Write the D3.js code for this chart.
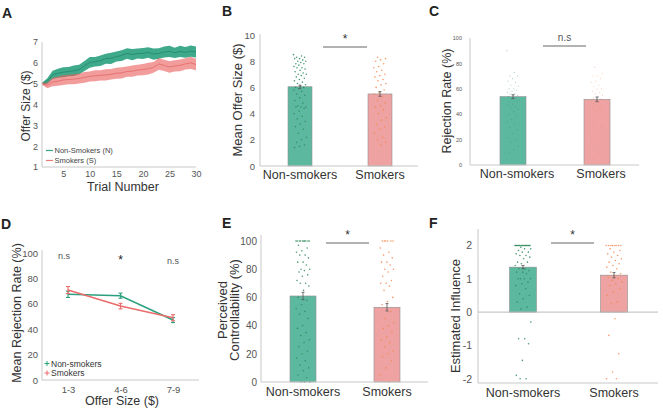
<!DOCTYPE html>
<html><head><meta charset="utf-8">
<script src="https://cdn.jsdelivr.net/npm/d3@7"></script>
<style>body{margin:0;background:#fff}svg{display:block;font-family:"Liberation Sans",Arial,Helvetica,sans-serif}</style>
</head><body><svg id="c" width="663" height="410"></svg>
<script>
// ---------------- DATA ----------------
const trialNums = [1,2,3,4,5,6,7,8,9,10,11,12,13,14,15,16,17,18,19,20,21,22,23,24,25,26,27,28,29,30];
const trialTicks = [5,10,15,20,25,30];
const offerSizeTicks = [1,2,3,4,5,6,7];
const nonSmokerTrialMean = [5.0,5.12,5.42,5.5,5.55,5.58,5.62,5.68,5.85,6.02,6.05,6.1,6.2,6.22,6.3,6.35,6.45,6.4,6.45,6.45,6.5,6.42,6.45,6.52,6.55,6.48,6.55,6.5,6.56,6.52];
const nonSmokerTrialSE   = [0.05,0.14,0.2,0.22,0.24,0.22,0.25,0.23,0.24,0.26,0.23,0.25,0.24,0.27,0.24,0.26,0.25,0.27,0.24,0.26,0.25,0.27,0.25,0.26,0.27,0.25,0.27,0.26,0.27,0.26];
const smokerTrialMean    = [5.0,4.92,5.08,5.12,5.18,5.2,5.22,5.25,5.3,5.35,5.38,5.4,5.42,5.45,5.5,5.52,5.58,5.6,5.65,5.68,5.72,5.78,5.95,5.88,5.8,5.85,5.88,5.95,6.0,5.92];
const smokerTrialSE      = [0.05,0.14,0.2,0.22,0.24,0.23,0.25,0.24,0.26,0.24,0.26,0.25,0.27,0.25,0.26,0.27,0.25,0.27,0.26,0.27,0.28,0.26,0.28,0.27,0.28,0.27,0.28,0.27,0.29,0.28];
const legendA = ["Non-Smokers (N)","Smokers (S)"];

const groups = ["Non-smokers","Smokers"];

// B: mean offer size
const meanOffer = [6.05,5.5];
const meanOfferSE = [0.12,0.18];
const meanOfferTicks = [0,2,4,6,8,10];
const offerDotsNon = [8.5,8.4,8.3,8.3,8.2,8.2,8.1,8.0,8.0,7.9,7.8,7.8,7.7,7.6,7.5,7.5,7.4,7.3,7.2,7.1,7.0,7.0,6.9,6.8,6.7,6.6,6.5,6.4,6.3,6.2,6.1,6.0,6.0,5.9,5.8,5.7,5.5,5.4,5.2,5.0,4.8,4.6,4.5,4.5,4.5,4.4,4.2,4.0,3.8,3.6,3.4,3.2,3.0,2.8,2.5,2.2,2.0,1.8,1.6,1.5,1.4];
const offerDotsSmk = [8.3,8.2,8.1,8.0,7.8,7.6,7.5,7.3,7.2,7.0,6.9,6.8,6.6,6.5,6.3,6.2,6.0,5.8,5.6,5.5,5.3,5.0,4.8,4.6,4.5,4.3,4.0,3.7,3.5,3.2,3.0,2.8,2.5,2.2,2.0,1.8,1.6];

// C: rejection rate
const rejRate = [53.8,51.7];
const rejRateSE = [1.5,1.8];
const rejTicks = [0,20,40,60,80,100];
const rejDotsNon = [90,73,70,70,68,66,65,63,62,60,60,59,58,57,56,56,55,55,54,53,52,51,50,50,49,48,47,46,45,44,42,40,38,36,34,32,30,28,25,22,20,18,15,12,10];
const rejDotsSmk = [77,72,70,70,68,66,65,63,62,60,60,58,57,56,55,54,53,52,51,50,49,48,47,46,45,44,42,40,37,34,30,25,20,10];

// D: rejection by offer size
const offerBins = ["1-3","4-6","7-9"];
const binRejNon = [67.5,66.4,47.2];
const binRejNonSE = [2.5,2,2];
const binRejSmk = [70.8,58.2,49];
const binRejSmkSE = [2.8,2.2,2.4];
const binSig = ["n.s","*","n.s"];
const binRejTicks = [0,20,40,60,80,100];

// E: perceived controllability
const control = [61,53];
const controlSE = [2.6,2.6];
const controlTicks = [0,20,40,60,80,100];
const controlDotsNon = [100,100,100,100,100,100,100,100,100,100,97,95,93,92,90,90,88,85,85,83,80,80,79,78,76,75,72,70,70,68,65,60,58,55,52,50,48,45,40,38,35,33,30,28,25,22,20,17,15,12,10,8,5,3,0,0,0];
const controlDotsSmk = [100,100,100,100,100,100,95,92,90,88,85,85,83,80,80,78,75,72,70,70,68,65,60,57,55,50,45,42,40,38,35,32,30,28,25,22,20,18,15,10,5,0];

// F: estimated influence
const influence = [1.35,1.11];
const influenceSE = [0.05,0.08];
const influenceTicks = [-2,-1,0,1,2];
const inflDotsNon = [2,2,2,2,2,2,2,2,2,2,2,2,2,2,2,2,2,2,2,2,1.95,1.9,1.9,1.85,1.8,1.8,1.75,1.7,1.7,1.65,1.6,1.5,1.5,1.45,1.4,1.3,1.3,1.25,1.2,1.2,1.15,1.0,1.0,1.0,1.0,0.9,0.85,0.8,0.7,0.55,0.5,0.4,0.3,0.15,0.1,-0.3,-0.8,-0.8,-0.95,-1.45,-1.9,-2.0,-2.0];
const inflDotsSmk = [2,2,2,2,2,2,2,2,1.9,1.85,1.8,1.75,1.7,1.65,1.6,1.55,1.5,1.45,1.4,1.35,1.3,1.2,1.15,1.1,1.05,1.0,0.95,0.9,0.85,0.8,0.7,0.6,0.5,0.3,0.25,0.0,-0.2,-0.7,-1.25,-1.8,-2.0,-2.0];

// ---------------- STYLE ----------------
const GREEN_BAR="#5db8a0", RED_BAR="#eea2a1", GREEN_DOT="#2f8a5a", RED_DOT="#f3884f";
const AXIS="#c8c8c8", TXT="#333", TICK="#555";
const fmt = d=>String(d);
const svg = d3.select("#c");
svg.append("rect").attr("width",663).attr("height",410).attr("fill","#fff");

function letter(t,x,y){
  svg.append("text").attr("x",x).attr("y",y).text(t).attr("font-weight","bold").attr("font-size",14).attr("fill","#222");
}
function styleAxis(sel,fs){
  sel.select(".domain").remove();
  sel.selectAll("text").attr("font-size",fs).attr("fill",TICK).attr("font-family",null);
}
function vline(g,x,y1,y2,c,w){g.append("line").attr("x1",x).attr("x2",x).attr("y1",y1).attr("y2",y2).attr("stroke",c||AXIS).attr("stroke-width",w||1);}
function hline(g,y,x1,x2,c,w){g.append("line").attr("x1",x1).attr("x2",x2).attr("y1",y).attr("y2",y).attr("stroke",c||AXIS).attr("stroke-width",w||1);}

// ---------------- PANEL A ----------------
(function(){
  const g = svg.append("g");
  const x = d3.scaleLinear().domain([1,30]).range([42,196]);
  const y = d3.scaleLinear().domain([1,7]).range([167,42]);
  const mk = (m,s)=>trialNums.map((t,i)=>({t,m:m[i],s:s[i]}));
  const area = d3.area().x(d=>x(d.t)).y0(d=>y(d.m-d.s)).y1(d=>y(d.m+d.s));
  const line = d3.line().x(d=>x(d.t)).y(d=>y(d.m));
  const dn = mk(nonSmokerTrialMean,nonSmokerTrialSE), ds = mk(smokerTrialMean,smokerTrialSE);
  g.append("path").attr("d",area(dn)).attr("fill","#35a585").attr("opacity",0.95);
  g.append("path").attr("d",line(dn)).attr("fill","none").attr("stroke","#23876a").attr("stroke-width",0.8);
  g.append("path").attr("d",area(ds)).attr("fill","#ea5a58").attr("opacity",0.6);
  g.append("path").attr("d",line(ds)).attr("fill","none").attr("stroke","#e06a66").attr("stroke-width",0.8);
  vline(g,42,42,167); hline(g,167,42,196);
  const xa = g.append("g").attr("transform","translate(0,167)").call(d3.axisBottom(x).tickValues(trialTicks).tickFormat(fmt).tickSize(0).tickPadding(4));
  styleAxis(xa,9);
  const ya = g.append("g").attr("transform","translate(42,0)").call(d3.axisLeft(y).tickValues(offerSizeTicks).tickFormat(fmt).tickSize(0).tickPadding(4));
  styleAxis(ya,9);
  g.append("text").attr("x",123).attr("y",191).attr("text-anchor","middle").attr("font-size",12.5).attr("fill",TXT).text("Trial Number");
  g.append("text").attr("transform","translate(30,106) rotate(-90)").attr("text-anchor","middle").attr("font-size",12).attr("fill",TXT).text("Offer Size ($)");
  const lc = ["#35a585","#ea7a78"];
  legendA.forEach((t,i)=>{
    const yy = 150.5 + i*10;
    hline(g,yy,46,53,lc[i],1.2);
    g.append("text").attr("x",54.5).attr("y",yy+2.6).attr("font-size",7.5).attr("fill","#444").text(t);
  });
  letter("A",2,18);
})();

// ---------------- BAR PANELS ----------------
function barPanel(o){
  const g = svg.append("g");
  const y = d3.scaleLinear().domain(o.domain).range([o.yBot,o.yTop]);
  const x = d3.scalePoint().domain(groups).range(o.centers);
  const base = y(Math.max(0,o.domain[0]));
  groups.forEach((gr,i)=>{
    const top = y(o.values[i]);
    g.append("rect").attr("x",x(gr)-o.barW/2).attr("y",Math.min(top,base)).attr("width",o.barW).attr("height",Math.abs(base-top))
      .attr("fill",i?RED_BAR:GREEN_BAR).attr("stroke","#8f8f8f").attr("stroke-width",0.6);
  });
  [o.dotsNon,o.dotsSmk].forEach((arr,i)=>{
    const cx = x(groups[i]);
    g.selectAll(null).data(arr).enter().append("circle")
      .attr("cx",(d,k)=>cx+(((k*0.6180339887+0.31*i)%1)-0.5)*2*o.jit)
      .attr("cy",d=>y(d)).attr("r",o.dotR||0.8)
      .attr("fill",i?RED_DOT:GREEN_DOT).attr("opacity",o.dotOp||0.85);
  });
  groups.forEach((gr,i)=>{
    const cx=x(gr), y1=y(o.values[i]-o.se[i]), y2=y(o.values[i]+o.se[i]);
    vline(g,cx,y1,y2,"#555",0.8); hline(g,y1,cx-1.5,cx+1.5,"#555",0.8); hline(g,y2,cx-1.5,cx+1.5,"#555",0.8);
  });
  if(o.zero) hline(g,y(0),o.axisX,o.axisEnd,"#bbb",1);
  vline(g,o.axisX,o.axisTop,o.axisY); hline(g,o.axisY,o.axisX,o.axisEnd);
  const ya = g.append("g").attr("transform",`translate(${o.axisX},0)`).call(d3.axisLeft(y).tickValues(o.ticks).tickFormat(fmt).tickSize(0).tickPadding(o.pad||5));
  styleAxis(ya,o.tickFs);
  groups.forEach((gr,i)=>g.append("text").attr("x",x(gr)+(o.catDx||0)).attr("y",o.catY).attr("text-anchor","middle").attr("font-size",12.5).attr("fill",TXT).text(gr));
  hline(g,o.sigY,o.sig[0],o.sig[1],"#999",1.3);
  g.append("text").attr("x",(o.sig[0]+o.sig[1])/2).attr("y",o.sigY-(o.sigText==="*"?4:5)).attr("text-anchor","middle")
    .attr("font-size",o.sigText==="*"?12:10).attr("fill",o.sigText==="*"?"#333":"#555").text(o.sigText);
  o.label.forEach((t,k)=>g.append("text").attr("transform",`translate(${o.labelX+k*o.labelGap},${o.labelY}) rotate(-90)`)
    .attr("text-anchor","middle").attr("font-size",o.labelFs).attr("fill",TXT).text(t));
  letter(o.letter,o.letterX,o.letterY);
}

barPanel({letter:"B",letterX:222,letterY:16,domain:[0,10],yBot:166,yTop:35,centers:[300,380],barW:24,
  values:meanOffer,se:meanOfferSE,dotsNon:offerDotsNon,dotsSmk:offerDotsSmk,jit:6.5,
  axisX:260,axisTop:34,axisY:166,axisEnd:418,ticks:meanOfferTicks,tickFs:9.5,
  catY:179,sig:[323,367],sigY:47,sigText:"*",label:["Mean Offer Size ($)"],labelX:242,labelY:100,labelGap:0,labelFs:13});

barPanel({letter:"C",letterX:429,letterY:16,domain:[0,100],yBot:165,yTop:38,centers:[513,597],barW:26,
  values:rejRate,se:rejRateSE,dotsNon:rejDotsNon,dotsSmk:rejDotsSmk,jit:6,dotR:0.6,dotOp:0.4,
  axisX:470,axisTop:38,axisY:165,axisEnd:639,ticks:rejTicks,tickFs:5.5,pad:8,
  catY:178,catDx:4,sig:[543,586],sigY:46,sigText:"n.s",label:["Rejection Rate (%)"],labelX:451,labelY:101,labelGap:0,labelFs:12.5});

barPanel({letter:"E",letterX:222,letterY:228,domain:[0,100],yBot:382,yTop:241,centers:[303,387],barW:26,
  values:control,se:controlSE,dotsNon:controlDotsNon,dotsSmk:controlDotsSmk,jit:7,
  axisX:261,axisTop:235,axisY:382,axisEnd:428,ticks:controlTicks,tickFs:10,pad:4,
  catY:396,sig:[326,369],sigY:243,sigText:"*",label:["Perceived","Controllability (%)"],labelX:227,labelY:310,labelGap:12,labelFs:13});

barPanel({letter:"F",letterX:429,letterY:228,domain:[-2,2],yBot:378.7,yTop:245.5,centers:[523,614],barW:27,
  values:influence,se:influenceSE,dotsNon:inflDotsNon,dotsSmk:inflDotsSmk,jit:8,zero:true,
  axisX:478,axisTop:229,axisY:383,axisEnd:658,ticks:influenceTicks,tickFs:10.5,pad:6,
  catY:397,sig:[551,594],sigY:243,sigText:"*",label:["Estimated Influence"],labelX:460,labelY:316,labelGap:0,labelFs:13});

// ---------------- PANEL D ----------------
(function(){
  const g = svg.append("g");
  const x = d3.scalePoint().domain(offerBins).range([68,173]);
  const y = d3.scaleLinear().domain([0,100]).range([380,253]);
  vline(g,42,250,380); hline(g,380,42,199);
  const ya = g.append("g").attr("transform","translate(42,0)").call(d3.axisLeft(y).tickValues(binRejTicks).tickFormat(fmt).tickSize(0).tickPadding(4));
  styleAxis(ya,9.5);
  const xa = g.append("g").attr("transform","translate(0,380)").call(d3.axisBottom(x).tickSize(0).tickPadding(6));
  styleAxis(xa,9.5);
  const series = [[binRejNon,binRejNonSE,"#2ba07f"],[binRejSmk,binRejSmkSE,"#ec6b6b"]];
  series.forEach(([m,s,c])=>{
    const pts = offerBins.map((b,i)=>({b,m:m[i],s:s[i]}));
    g.append("path").attr("d",d3.line().x(d=>x(d.b)).y(d=>y(d.m))(pts)).attr("fill","none").attr("stroke",c).attr("stroke-width",1.6);
    pts.forEach(d=>{
      const cx=x(d.b), y1=y(d.m-d.s), y2=y(d.m+d.s);
      vline(g,cx,y1,y2,c,1.1); hline(g,y1,cx-2,cx+2,c,1.1); hline(g,y2,cx-2,cx+2,c,1.1);
    });
  });
  const sigY=[257,260,262];
  offerBins.forEach((b,i)=>g.append("text").attr("x",x(b)-(i===0?4:0)).attr("y",sigY[i]+(binSig[i]==="*"?4:2))
    .attr("text-anchor","middle").attr("font-size",binSig[i]==="*"?12:9).attr("fill",binSig[i]==="*"?"#222":"#555").text(binSig[i]));
  const lc=["#2ba07f","#ec6b6b"];
  groups.forEach((t,i)=>{
    const yy=363.5+i*9.5;
    hline(g,yy,44.5,49.5,lc[i],1); vline(g,47,yy-2.5,yy+2.5,lc[i],1);
    g.append("text").attr("x",51).attr("y",yy+3).attr("font-size",8.5).attr("fill","#333").text(t);
  });
  g.append("text").attr("x",122).attr("y",405).attr("text-anchor","middle").attr("font-size",12.5).attr("fill",TXT).text("Offer Size ($)");
  g.append("text").attr("transform","translate(21,313) rotate(-90)").attr("text-anchor","middle").attr("font-size",12.5).attr("fill",TXT).text("Mean Rejection Rate (%)");
  letter("D",1,229);
})();
</script></body></html>
